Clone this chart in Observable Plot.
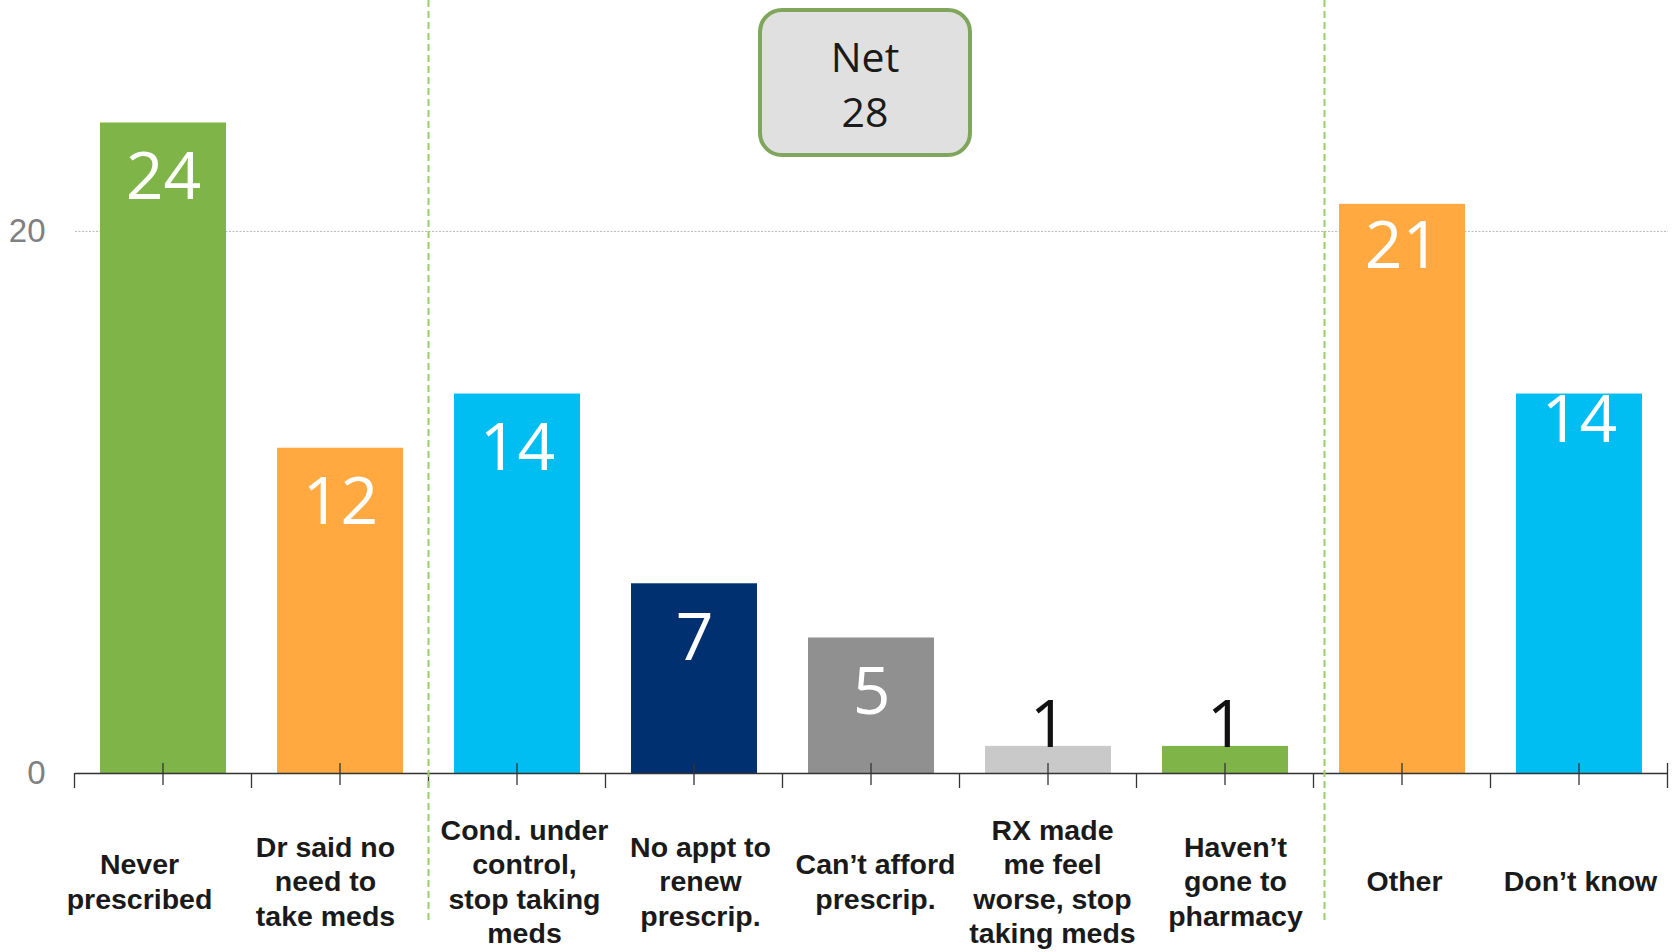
<!DOCTYPE html>
<html><head><meta charset="utf-8">
<script src="https://cdn.jsdelivr.net/npm/d3@7"></script>
<script src="https://cdn.jsdelivr.net/npm/@observablehq/plot@0.6"></script>
<style>
html,body{margin:0;padding:0;background:#fff;}
#wrap{position:relative;width:1677px;height:952px;}
#net{position:absolute;left:758px;top:8px;width:206px;height:141px;border:4px solid #7fa65c;border-radius:24px;background:#e0e0e0;
 font-family:"Open Sans",Lato,sans-serif;font-size:41px;color:#1a1a1a;text-align:center;line-height:55px;box-sizing:content-box}
#net .l1{margin-top:17px}
</style></head>
<body><div id="wrap"><div id="chart"></div><div id="net"><div class="l1" id="netLabel"></div><div id="netValue"></div></div></div>
<script>
const categories = [
  "Never\nprescribed",
  "Dr said no\nneed to\ntake meds",
  "Cond. under\ncontrol,\nstop taking\nmeds",
  "No appt to\nrenew\nprescrip.",
  "Can’t afford\nprescrip.",
  "RX made\nme feel\nworse, stop\ntaking meds",
  "Haven’t\ngone to\npharmacy",
  "Other",
  "Don’t know"
];
const values = [24, 12, 14, 7, 5, 1, 1, 21, 14];
const colors = ["#7fb548", "#ffa940", "#00bdf2", "#003070", "#909090", "#c9c9c9", "#7fb548", "#ffa940", "#00bdf2"];
const yTicks = [0, 20];
const yDomain = [0, 28.52];
const dividers = [2, 7];          // group starts before these category indexes
const netLabel = "Net";
const netValue = 28;
// styling nudges (px) copied from the reference layout
const valueLabelDy = [76, 76, 76, 76, 76, 1, 1, 64, 48];
const categoryLabelDx = [-24, -15, 7, 6, 4, 4, 10, 2, 1];

document.getElementById("netLabel").textContent = netLabel;
document.getElementById("netValue").textContent = netValue;

const data = categories.map((c, i) => ({cat: c, value: values[i], i}));

function decorations(index, scales, vals, dims) {
  const x = scales.x, y = scales.y;
  const xs = categories.map(c => x(c));
  const step = xs[1] - xs[0];
  const bw = x.bandwidth ? x.bandwidth() : step * 0.712;
  const gap = step - bw;
  const y0 = y(0);
  const g = d3.create("svg:g");
  xs.forEach(v => {
    g.append("line").attr("x1", v + bw / 2).attr("x2", v + bw / 2)
      .attr("y1", y0 - 10).attr("y2", y0 + 12).attr("stroke", "#333").attr("stroke-width", 1.3);
  });
  const bounds = xs.map(v => v - gap / 2).concat([xs[xs.length - 1] + bw + gap / 2]);
  bounds.forEach((b, k) => {
    g.append("line").attr("x1", b).attr("x2", b)
      .attr("y1", k === bounds.length - 1 ? y0 - 10 : y0).attr("y2", y0 + 15)
      .attr("stroke", "#333").attr("stroke-width", 1.3);
  });
  dividers.forEach((k, j) => {
    const bx = bounds[k] + (j === 1 ? 11 : 0);
    g.append("line").attr("x1", bx).attr("x2", bx)
      .attr("y1", 0).attr("y2", y0 + 147)
      .attr("stroke", "#99cf6a").attr("stroke-width", 2).attr("stroke-dasharray", "7,4");
  });
  return g.node();
}

const valueMarks = data.map(d => Plot.text([d], {
  x: "cat", y: "value", text: e => String(e.value),
  fill: d.value >= 3 ? "white" : "#111",
  lineAnchor: "bottom", dy: valueLabelDy[d.i], fontSize: 66,
  fontFamily: "'Open Sans', Lato, sans-serif", fontWeight: 400,
  style: d.value >= 3 ? "letter-spacing:4px" : ""
}));

const catMarks = data.map(d => Plot.text([d], {
  x: "cat", frameAnchor: "bottom", text: "cat", lineAnchor: "middle",
  dy: 107, dx: categoryLabelDx[d.i], lineHeight: 1.2,
  fontSize: 28.5, fontWeight: "bold", fill: "#1a1a1a",
  fontFamily: "'Liberation Sans', Arial, sans-serif"
}));

const plot = Plot.plot({
  width: 1677,
  height: 952,
  marginLeft: 75,
  marginRight: 9,
  marginTop: 0,
  marginBottom: 179,
  style: {background: "transparent", overflow: "visible"},
  x: {domain: categories, paddingInner: 0.288, paddingOuter: 0.144, axis: null},
  y: {domain: yDomain, axis: null},
  color: {domain: categories, range: colors},
  marks: [
    Plot.gridY(yTicks.filter(d => d > 0), {stroke: "#b8b8b8", strokeOpacity: 1, strokeDasharray: "2,1.5", strokeWidth: 1}),
    Plot.axisY(yTicks, {tickSize: 0, tickPadding: 30, fontSize: 33, color: "#808080", fontFamily: "'Liberation Sans', Arial, sans-serif", label: null}),
    Plot.barY(data, {x: "cat", y: "value", fill: "cat"}),
    Plot.ruleY([0], {stroke: "#333", strokeWidth: 1.5}),
    decorations,
    ...valueMarks,
    ...catMarks
  ]
});
document.getElementById("chart").appendChild(plot);
</script>
</body></html>
